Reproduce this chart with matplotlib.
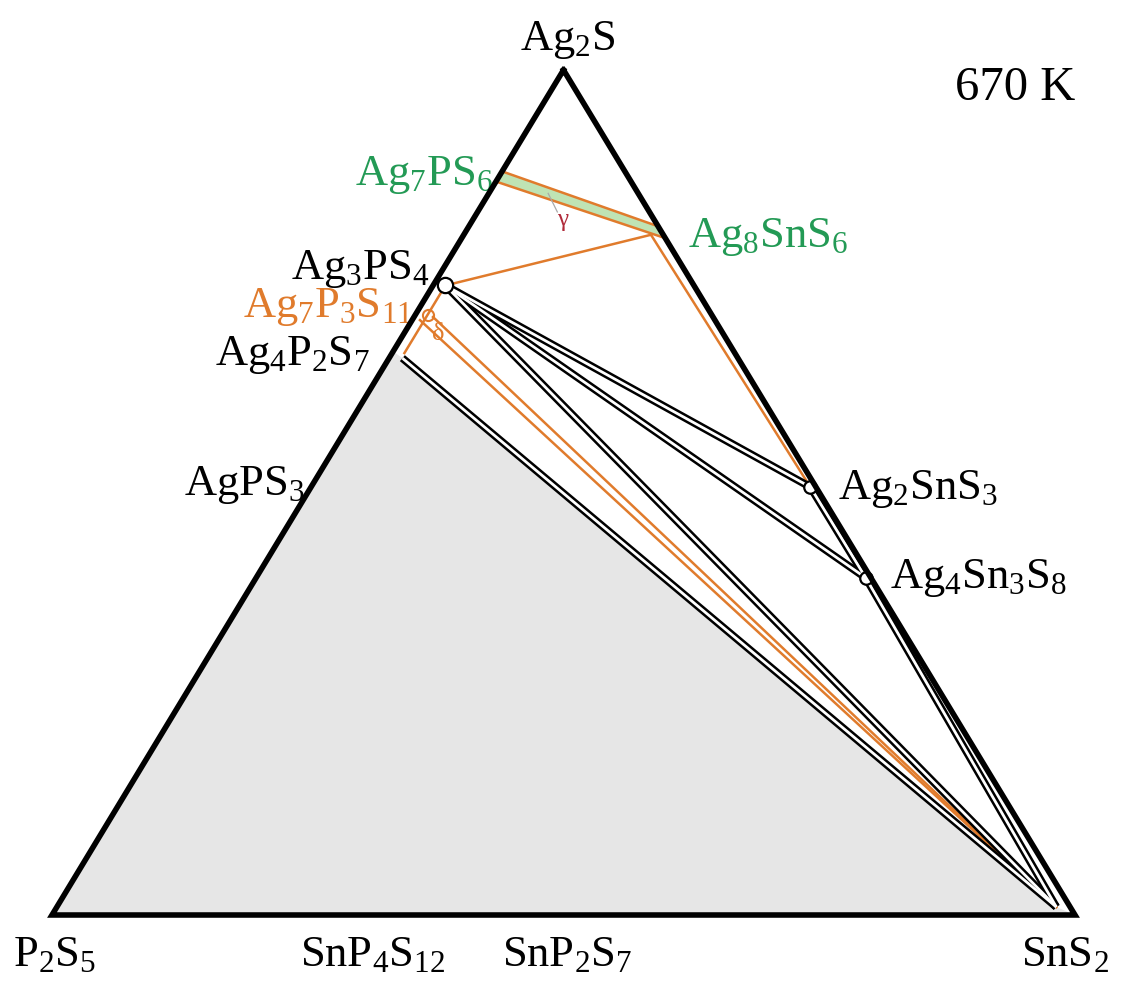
import matplotlib
matplotlib.use('Agg')
import matplotlib.pyplot as plt
from matplotlib.patches import Polygon
import numpy as np

plt.rcParams['font.family'] = ['Liberation Serif', 'DejaVu Serif']
plt.rcParams['mathtext.fontset'] = 'custom'
plt.rcParams['mathtext.rm'] = 'Liberation Serif'
plt.rcParams['mathtext.it'] = 'Liberation Serif:italic'

# ---------------- data (compositions as fractions of Ag2S, SnS2; rest P2S5) ----
temperature_label = '670 K'

corner_names = ['Ag$_2$S', 'SnS$_2$', 'P$_2$S$_5$']
corner_ag = [1.0, 0.0, 0.0]
corner_sn = [0.0, 1.0, 0.0]

# phases on the Ag2S - P2S5 join (label, Ag2S fraction, color)
left_names = ['Ag$_7$PS$_6$', 'Ag$_3$PS$_4$', 'Ag$_7$P$_3$S$_{11}$', 'Ag$_4$P$_2$S$_7$', 'AgPS$_3$']
left_ag = [0.875, 0.75, 0.70, 0.667, 0.5]
left_colors = ['#239a55', 'black', '#e07b2c', 'black', 'black']

# phases on the Ag2S - SnS2 join
right_names = ['Ag$_8$SnS$_6$', 'Ag$_2$SnS$_3$', 'Ag$_4$Sn$_3$S$_8$']
right_ag = [0.8, 0.5, 0.4]
right_colors = ['#239a55', 'black', 'black']

# phases on the SnS2 - P2S5 join (SnS2 fraction)
bottom_names = ['SnP$_4$S$_{12}$', 'SnP$_2$S$_7$']
bottom_sn = [1/3, 0.5]

# nodes of tie lines (Ag2S, SnS2)
node_names = ['Ag3PS4', 'Ag4P2S7', 'Ag2SnS3', 'Ag4Sn3S8', 'SnS2', 'gamma', 'delta1', 'delta2',
              'edgeA', 'edgeB', 'Ag7P3S11']
node_ag = [0.745, 0.659, 0.5065, 0.399, 0.0095, 0.805, 0.704, 0.7077, 0.74, 0.665, 0.710]
node_sn = [0.012, 0.013, 0.488, 0.596, 0.977, 0.183, 0.0077, 0.0186, 0.012, 0.012, 0.0125]

black_ties = [('Ag3PS4', 'Ag2SnS3'), ('Ag3PS4', 'Ag4Sn3S8'), ('Ag3PS4', 'SnS2'),
              ('Ag4P2S7', 'SnS2'), ('Ag2SnS3', 'Ag4Sn3S8'), ('Ag4Sn3S8', 'SnS2')]
orange_ties = [('gamma', 'Ag3PS4'), ('gamma', 'Ag2SnS3'), ('edgeA', 'edgeB'),
               ('delta1', 'SnS2'), ('delta2', 'SnS2')]

# gamma solid-solution band (Ag2S, SnS2)
gamma_ag = [0.880, 0.815, 0.801, 0.868]
gamma_sn = [0.0, 0.185, 0.199, 0.0]

# gamma label pointer (Ag2S, SnS2) and label position
gamma_ptr_ag = [0.854, 0.832]
gamma_ptr_sn = [0.058, 0.078]
gamma_lbl = (0.8225, 0.0883)

# ---------------- helpers ----------------
def xy(ag, sn):
    ag = np.asarray(ag, float); sn = np.asarray(sn, float)
    return sn + ag / 2.0, ag

node = {n: xy(a, s) for n, a, s in zip(node_names, node_ag, node_sn)}

fig = plt.figure(figsize=(11.29, 9.83), dpi=100)
ax = fig.add_axes([0, 0, 1, 1])
ax.set_xlim(-52/1023, (1129-52)/1023)
ax.set_ylim(-(983-915)/845, 915/845)
ax.axis('off')

ORANGE = '#e07b2c'

# grey two-phase field P2S5 - Ag4P2S7 - SnS2
edge_ag4 = xy(left_ag[3], 0)
gx = [xy(0, 0)[0], edge_ag4[0], node['Ag4P2S7'][0], node['SnS2'][0], xy(0, 1)[0]]
gy = [xy(0, 0)[1], edge_ag4[1], node['Ag4P2S7'][1], node['SnS2'][1], xy(0, 1)[1]]
ax.add_patch(Polygon(np.column_stack([gx, gy]), closed=True, fc='#e6e6e6', ec='none', zorder=1))

# gamma band
bx, by = xy(gamma_ag, gamma_sn)
ax.add_patch(Polygon(np.column_stack([bx, by]), closed=True, fc='#bfe3b4', ec=ORANGE, lw=1.8, zorder=3))

def dline(p, q, color, lw_out=5.6, lw_in=2.0, z=4):
    ax.plot([p[0], q[0]], [p[1], q[1]], color=color, lw=lw_out, solid_capstyle='butt', zorder=z)
    ax.plot([p[0], q[0]], [p[1], q[1]], color='white', lw=lw_in, solid_capstyle='butt', zorder=z + 0.1)

for a, b in black_ties:
    dline(node[a], node[b], 'black')

for a, b in orange_ties:
    p, q = node[a], node[b]
    ax.plot([p[0], q[0]], [p[1], q[1]], color=ORANGE, lw=1.8, zorder=3.5)

# nodes
for n, ms in zip(['Ag3PS4', 'Ag2SnS3', 'Ag4Sn3S8'], [11, 9, 9]):
    ax.plot(*node[n], 'o', ms=ms, mfc='white', mec='black', mew=1.6, zorder=6)
ax.plot(*node['Ag7P3S11'], 'o', ms=8, mfc='none', mec=ORANGE, mew=1.5, zorder=6)

# triangle outline
tx, ty = xy(corner_ag + [corner_ag[0]], corner_sn + [corner_sn[0]])
ax.plot(tx, ty, color='black', lw=4, solid_joinstyle='miter', zorder=8)

FS = 32
# corner labels
corner_offsets = [(4, 30), (-10, -40), (3, -40)]
for name, a, s, off in zip(corner_names, corner_ag, corner_sn, corner_offsets):
    ax.annotate(name, xy=xy(a, s), xytext=off, textcoords='offset pixels',
                ha='center', va='center', fontsize=FS)

left_offsets = [(-7, 1), (-6, 12), (2, 16), (-23, -4), (-3, 7)]
for name, a, c, off in zip(left_names, left_ag, left_colors, left_offsets):
    ax.annotate(name, xy=xy(a, 0), xytext=off, textcoords='offset pixels',
                ha='right', va='center', fontsize=FS, color=c)

right_offsets = [(22, 2), (19, 3), (20, -1)]
for name, a, c, off in zip(right_names, right_ag, right_colors, right_offsets):
    ax.annotate(name, xy=xy(a, 1 - a), xytext=off, textcoords='offset pixels',
                ha='left', va='center', fontsize=FS, color=c)

bottom_offsets = [(-20, -40), (4, -40)]
for name, s, off in zip(bottom_names, bottom_sn, bottom_offsets):
    ax.annotate(name, xy=xy(0, s), xytext=off, textcoords='offset pixels',
                ha='center', va='center', fontsize=FS)

# phase region labels
px, py = xy(gamma_ptr_ag, gamma_ptr_sn)
ax.plot(px, py, color='#aaaaaa', lw=0.9, zorder=3.6)
ax.text(*xy(*gamma_lbl), 'γ', ha='center', va='center', fontsize=18, color='#b02a3a', zorder=7)
dx0, dy0 = node['Ag7P3S11']
ax.annotate('δ', xy=(dx0, dy0), xytext=(10, -19), textcoords='offset pixels',
            ha='center', va='center', fontsize=19, color=ORANGE)

fig.text(1015/1129, 1 - 88/983, temperature_label, ha='center', va='center', fontsize=35)

fig.savefig('out.png', dpi=100)
